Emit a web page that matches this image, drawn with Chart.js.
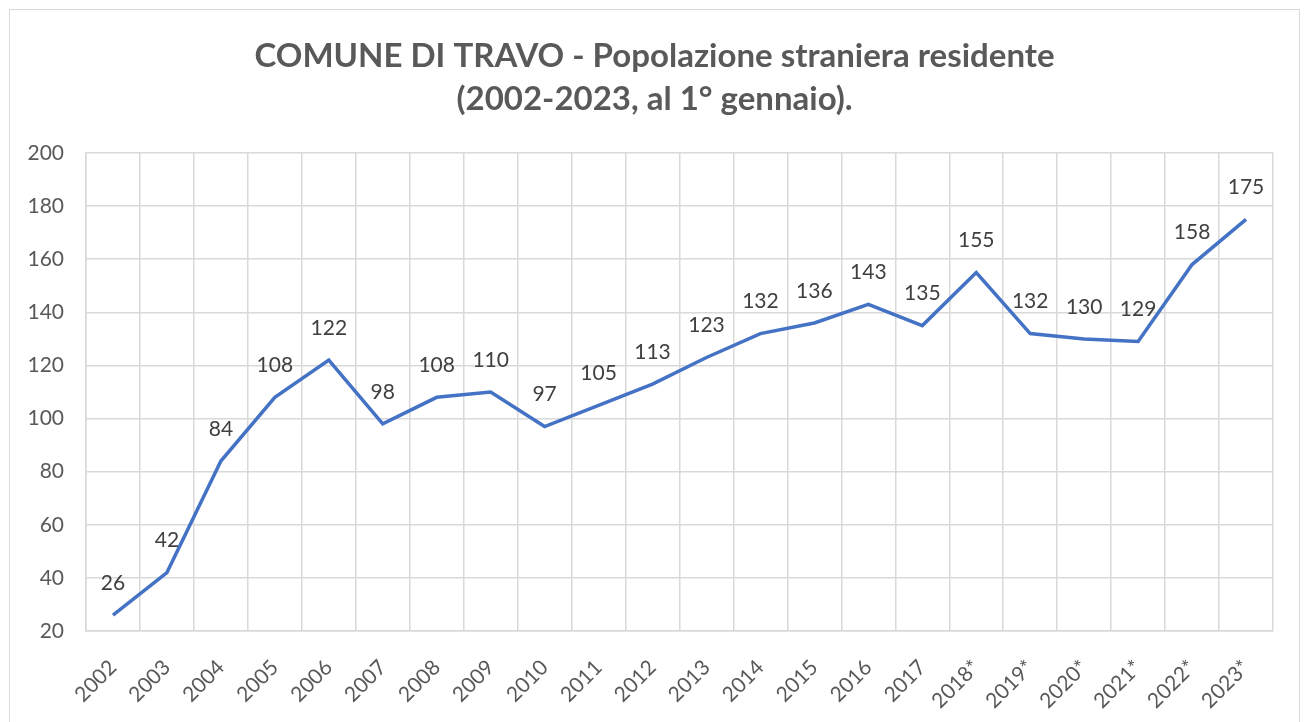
<!DOCTYPE html>
<html lang="it">
<head>
<meta charset="UTF-8">
<title>Travo - popolazione straniera</title>
<script src="https://cdn.jsdelivr.net/npm/chart.js"></script>
<style>
  body { margin: 0; background: #fff; }
  #box { position: absolute; left: 9px; top: 9px; width: 1289px; height: 720px; border: 1px solid #d9d9d9; }
  canvas { display: block; }
</style>
</head>
<body>
<div id="box"><canvas id="c" width="1289" height="712"></canvas></div>
<script>
const anni = ['2002','2003','2004','2005','2006','2007','2008','2009','2010','2011','2012',
  '2013','2014','2015','2016','2017','2018*','2019*','2020*','2021*','2022*','2023*'];
const stranieri = [26, 42, 84, 108, 122, 98, 108, 110, 97, 105, 113,
  123, 132, 136, 143, 135, 155, 132, 130, 129, 158, 175];
const titolo = ['COMUNE DI TRAVO - Popolazione straniera residente', '(2002-2023, al 1° gennaio).'];

const FONT = 'Lato, "Open Sans", sans-serif';

// titolo e etichette dei valori disegnati a mano
const extra = {
  id: 'extra',
  afterDatasetsDraw(chart) {
    const ctx = chart.ctx;
    const meta = chart.getDatasetMeta(0);
    ctx.save();
    ctx.font = '21px ' + FONT;
    ctx.fillStyle = '#404040';
    ctx.textAlign = 'center';
    ctx.textBaseline = 'middle';
    meta.data.forEach((p, i) => {
      ctx.fillText(String(stranieri[i]), p.x, p.y - 32);
    });
    ctx.font = 'bold 33px ' + FONT;
    ctx.fillStyle = '#595959';
    const cx = chart.width / 2;
    ctx.fillText(titolo[0], cx, 46);
    ctx.fillText(titolo[1], cx, 89);
    ctx.restore();
  }
};

new Chart(document.getElementById('c'), {
  type: 'line',
  data: {
    labels: anni,
    datasets: [{
      data: stranieri,
      borderColor: '#4472C4',
      borderWidth: 3.5,
      pointRadius: 0,
      tension: 0,
      fill: false
    }]
  },
  options: {
    responsive: false,
    animation: false,
    layout: { padding: { top: 143, right: 26, left: 0, bottom: 0 } },
    plugins: { legend: { display: false }, title: { display: false }, tooltip: { enabled: false } },
    scales: {
      x: {
        offset: true,
        grid: { color: '#d9d9d9', lineWidth: 1.5, drawTicks: false, offset: true },
        border: { color: '#d9d9d9', width: 1.5 },
        ticks: { color: '#595959', font: { size: 21, family: FONT }, minRotation: 45, maxRotation: 45, padding: 24, autoSkip: false },
        afterFit(s) { s.height = 91; }
      },
      y: {
        min: 20, max: 200,
        grid: { color: '#d9d9d9', lineWidth: 1.5, drawTicks: false },
        border: { color: '#d9d9d9', width: 1.5 },
        ticks: { stepSize: 20, color: '#595959', font: { size: 21, family: FONT }, padding: 22 },
        afterFit(s) { s.width = 76; }
      }
    }
  },
  plugins: [extra]
});
</script>
</body>
</html>
